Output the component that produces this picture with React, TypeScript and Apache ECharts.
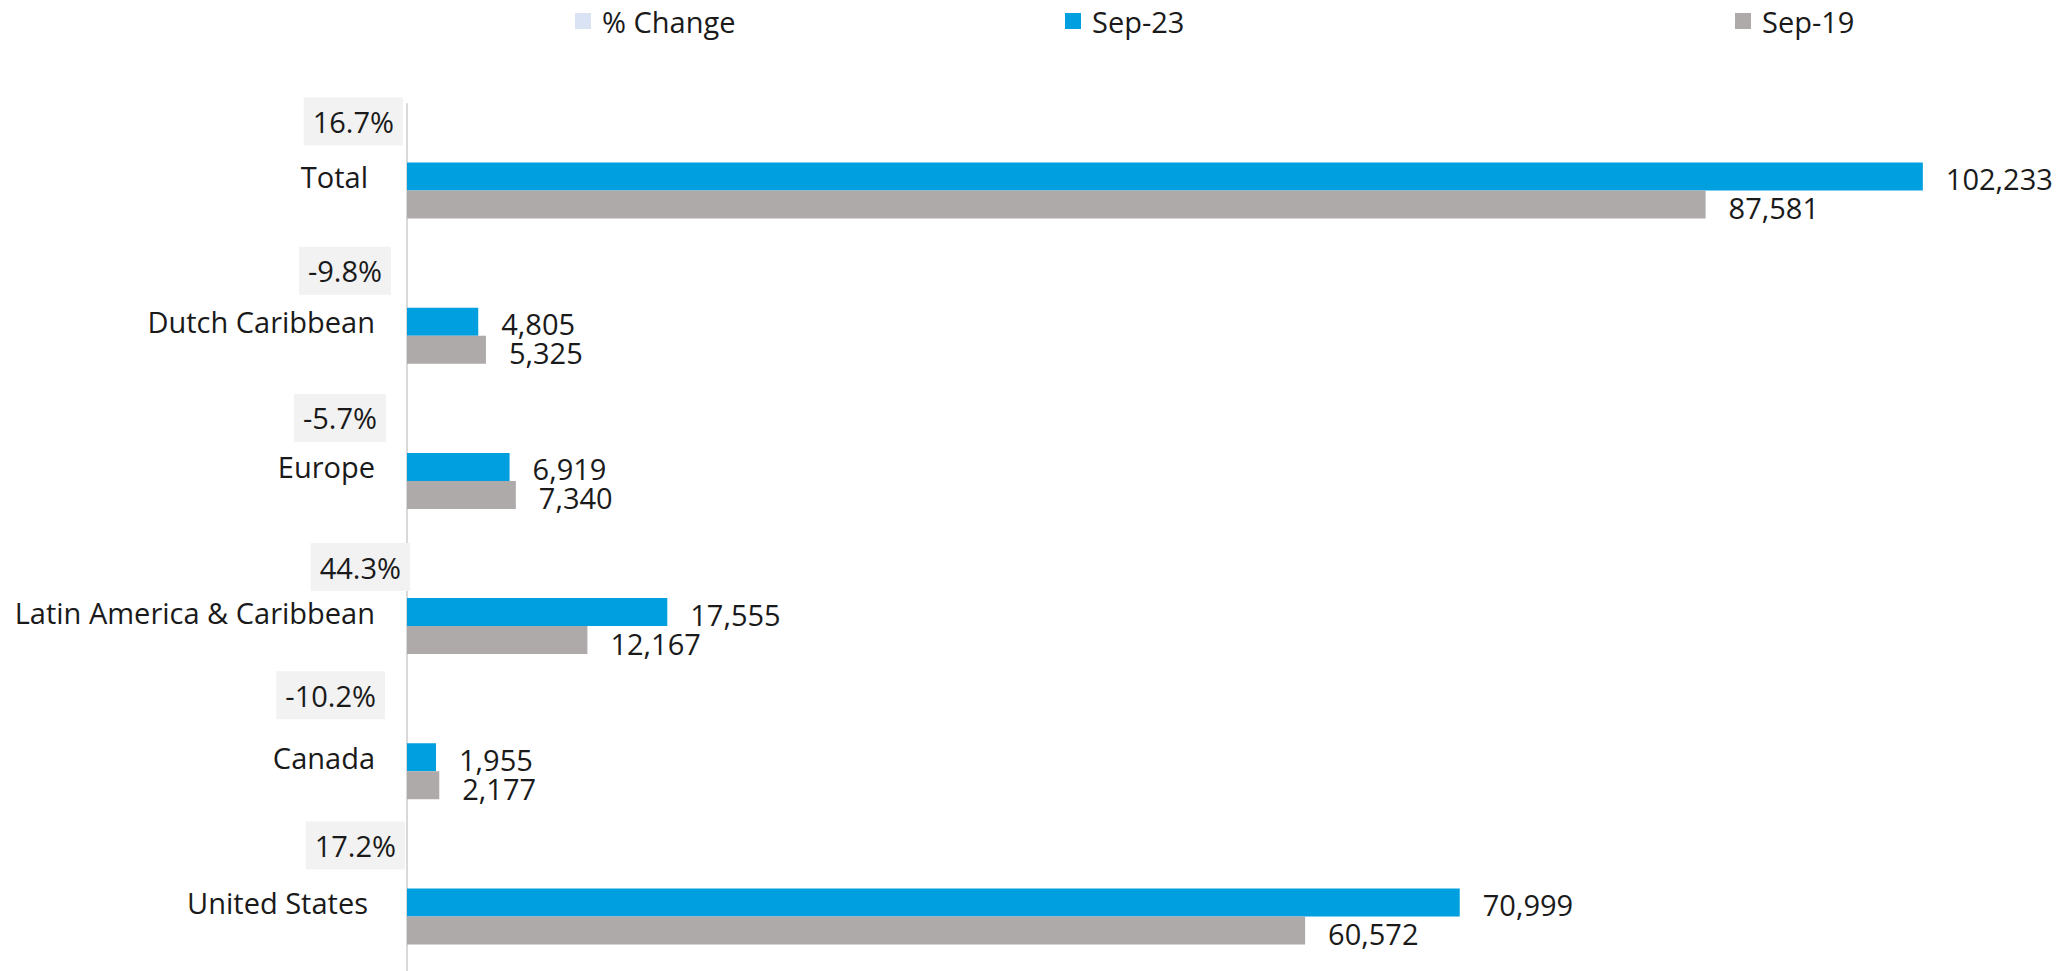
import React, { useEffect, useRef } from "react";
import * as echarts from "echarts";

const categories = ["Total", "Dutch Caribbean", "Europe", "Latin America & Caribbean", "Canada", "United States"];
const sep23 = [102233, 4805, 6919, 17555, 1955, 70999];
const sep19 = [87581, 5325, 7340, 12167, 2177, 60572];
const pctChange = ["16.7%", "-9.8%", "-5.7%", "44.3%", "-10.2%", "17.2%"];

const pctOffsets = [[-4, -27], [-16, -23], [-21, -21], [3, -17], [-22, -34], [-2, -29]];
const catPad = [7, 0, 0, 0, 0, 7];

const FONT = "'Open Sans', 'Noto Sans', sans-serif";

export default function App() {
  const ref = useRef<HTMLDivElement>(null);
  useEffect(() => {
    if (!ref.current) return;
    const chart = echarts.init(ref.current, undefined, { renderer: "svg" });
    const fmt = (v: number) => v.toLocaleString("en-US");
    const legendBase = {
      top: 6,
      orient: "horizontal" as const,
      itemWidth: 16,
      itemHeight: 16,
      padding: 0,
      icon: "rect",
      textStyle: { fontSize: 29, fontFamily: FONT, color: "#1a1a1a", padding: [0, 0, 0, 6], lineHeight: 30 },
    };
    chart.setOption({
      animation: false,
      legend: [
        { ...legendBase, left: 575, data: ["% Change"] },
        { ...legendBase, left: 1065, data: ["Sep-23"] },
        { ...legendBase, left: 1735, data: ["Sep-19"] },
      ],
      grid: { left: 407, top: 104, width: 1631, height: 871, containLabel: false, outerBoundsMode: "none" },
      xAxis: {
        type: "value",
        min: 0,
        max: 110000,
        show: false,
        splitLine: { show: false },
      },
      yAxis: {
        type: "category",
        inverse: true,
        data: categories.map((c, i) => ({ value: c, textStyle: { padding: [0, catPad[i], 0, 0] } })),
        axisLine: { show: true, lineStyle: { color: "#d9d9d9", width: 2 } },
        axisTick: { show: false },
        axisLabel: { fontSize: 29, fontFamily: FONT, color: "#1a1a1a", margin: 32, lineHeight: 28 },
      },
      series: [
        {
          name: "% Change",
          type: "bar",
          barWidth: 28,
          barGap: "0%",
          itemStyle: { color: "#dae3f3" },
          data: pctChange.map((p, i) => ({
            value: 0,
            label: {
              show: true,
              position: "left",
              distance: 0,
              offset: pctOffsets[i],
              formatter: p,
              fontSize: 29,
              fontFamily: FONT,
              color: "#1a1a1a",
              backgroundColor: "#f2f2f2",
              padding: [9, 9, 9, 9],
              lineHeight: 30,
            },
          })),
        },
        {
          name: "Sep-23",
          type: "bar",
          barWidth: 28,
          barGap: "0%",
          itemStyle: { color: "#009fdf" },
          label: {
            show: true,
            position: "right",
            distance: 23,
            offset: [0, 2],
            fontSize: 29,
            lineHeight: 26,
            fontFamily: FONT,
            color: "#1a1a1a",
            formatter: (p: any) => fmt(p.value),
          },
          data: sep23,
        },
        {
          name: "Sep-19",
          type: "bar",
          barWidth: 28,
          barGap: "0%",
          itemStyle: { color: "#aeaaaa" },
          label: {
            show: true,
            position: "right",
            distance: 23,
            offset: [0, 3],
            fontSize: 29,
            lineHeight: 26,
            fontFamily: FONT,
            color: "#1a1a1a",
            formatter: (p: any) => fmt(p.value),
          },
          data: sep19,
        },
      ],
    });
    return () => chart.dispose();
  }, []);
  return (
    <div
      ref={ref}
      style={{ position: "absolute", left: 0, top: 0, width: 2067, height: 971, background: "#fff" }}
    />
  );
}
